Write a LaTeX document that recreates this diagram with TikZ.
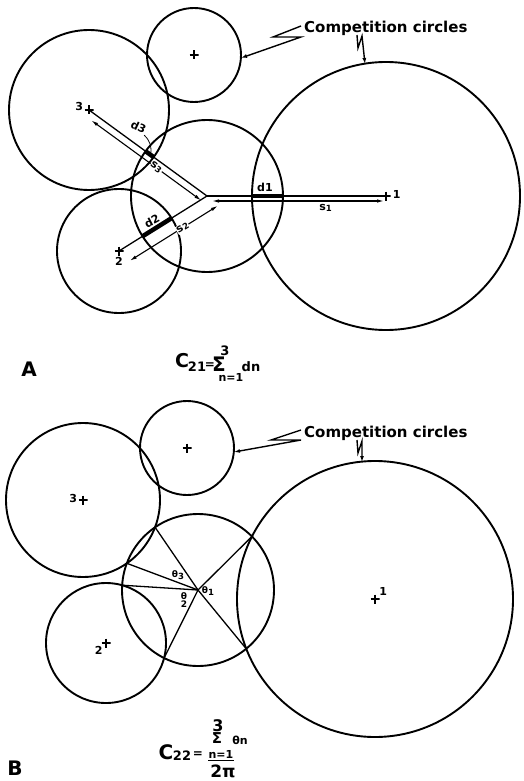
\documentclass[tikz,border=0pt]{standalone}
\usepackage{fontspec}
\setmainfont{DejaVu Sans}
\usetikzlibrary{arrows.meta,calc,positioning,intersections}
\newcommand{\ix}[2]{#1\raisebox{-1.5pt}{\fontsize{8.5}{8.5}\selectfont#2}}
\newcommand{\fs}[1]{\fontsize{#1}{#1}\selectfont\bfseries}

\tikzset{
  ring/.style={line width=1.9pt},
  spoke/.style={line width=1.3pt},
  overlap/.style={line width=4.5pt},
  tree/.style={minimum size=9pt,inner sep=0pt,path picture={\draw[line width=1.3pt]
      (path picture bounding box.north)--(path picture bounding box.south)
      (path picture bounding box.west)--(path picture bounding box.east);}},
  dimline/.style={line width=1.1pt,{Latex[length=7pt,width=3.5pt]}-{Latex[length=7pt,width=3.5pt]}},
  leader/.style={line width=1.4pt,-{Latex[length=6pt,width=4pt]}},
  num/.style={font=\fs{11},inner sep=0pt},
  lab/.style={font=\fs{11},inner sep=0.5pt},
  theta/.style={font=\fs{9},inner sep=0pt},
  comp/.style={font=\fs{15},inner sep=0pt},
  panel/.style={font=\fs{20},inner sep=0pt},
}

\begin{document}
\begin{tikzpicture}[x=1pt,y=-1pt]
  \useasboundingbox (0,0) rectangle (524,781);

  % ---- A: sum of overlaps d_n along the lines s_n
  \coordinate (cA) at (207,196);
  \node[tree] (a1) at (386,196) {};
  \node[tree] (a2) at (119,251) {};
  \node[tree] (a3) at (89,110) {};
  \node[tree] (a4) at (194,55) {};
  \foreach \t/\r in {a1/134,a2/62,a3/80,a4/47} \draw[ring] (\t.center) circle[radius=\r];
  \draw[ring] (cA) circle[radius=76];
  \node[num,right=2pt of a1,yshift=2pt] (n1) {1};
  \node[num,below=1pt of a2] (n2) {2};
  \node[num,left=1pt of a3,yshift=4pt] (n3) {3};

  \foreach \t/\r in {a1/134,a2/62,a3/80} {
    \draw[spoke] (cA) -- (\t.center);
    \draw[overlap] ($(cA)!76pt!(\t.center)$) -- ($(\t.center)!\r pt!(cA)$);
  }
  \draw[dimline] ($(cA)!5pt!(a1.center)!5pt!-90:(a1.center)$) -- node[lab,below=2pt,pos=0.66] (s1) {\ix{s}{1}} ($(a1.center)!2pt!(cA)!5pt!90:(cA)$);
  \draw[dimline] ($(cA)!-4pt!(a2.center)!14pt!90:(a2.center)$) -- node[lab,fill=white,sloped,pos=0.4] (s2) {\ix{s}{2}} ($(a2.center)!4pt!(cA)!14pt!-90:(cA)$);
  \draw[dimline] ($(cA)!2pt!(a3.center)!7pt!90:(a3.center)$) -- node[lab,fill=white,sloped,pos=0.41] (s3) {\ix{s}{3}} ($(a3.center)!8pt!(cA)!7pt!-90:(cA)$);
  \node[lab] (d1) at ($(cA)!58pt!(a1.center)+(0,-9)$) {d1};
  \node[lab,rotate=28,anchor=south] (d2) at ($(cA)!61pt!(a2.center)+(-1,-3)$) {d2};
  \node[lab,rotate=-25] (d3) at ($(cA)!71pt!(a3.center)+(-11,-27)$) {d3};
  \draw[line width=0.8pt] (d3.south east) to[bend left=30] ($(cA)!70pt!(a3.center)$);

  \node[comp,anchor=west] (compA) at (304,28) {Competition circles};
  \draw[leader] ($(compA.west)+(-3,-2)$) -- ++(-28,11) -- ++(28,0) -- ($(a4.center)+(47,3)$);
  \coordinate (kA) at (357,35);
  \draw[leader] (kA) -- ++(1,13) -- ++(4,-12) -- ($(a1.center)+(-21,-132)$);

  \node[panel] (labA) at (29,369) {A};
  \node[font=\fs{19},inner sep=0pt] (fa1) at (182,361) {C};
  \node[font=\fs{13},inner sep=0pt] (fa2) at (197,367) {21};
  \node[font=\fs{12},inner sep=0pt] (fa3) at (210,366) {=};
  \node[font=\fs{20},inner sep=0pt] (fa4) at (219,364) {Σ};
  \node[font=\fs{13},inner sep=0pt] (fa5) at (225,351) {3};
  \node[font=\fs{11},inner sep=0pt] (fa6) at (231,377) {n=1};
  \node[font=\fs{13},inner sep=0pt] (fa7) at (251,367) {dn};

  % ---- B: angles theta_n cut off by the neighbours
  \coordinate (cB) at (198,590);
  \node[tree] (b1) at (375,599) {};
  \node[tree] (b2) at (106,643) {};
  \node[tree] (b3) at (83,500) {};
  \node[tree] (b4) at (187,448) {};
  \draw[ring,name path=r1] (b1.center) circle[radius=138];
  \draw[ring,name path=r2] (b2.center) circle[radius=60];
  \draw[ring,name path=r3] (b3.center) circle[radius=77];
  \draw[ring] (b4.center) circle[radius=47];
  \draw[ring,name path=rc] (cB) circle[radius=76];
  \node[num,above right=-1pt and -0.5pt of b1] (m1) {1};
  \node[num,below left=-2pt and -1.5pt of b2] (m2) {2};
  \node[num,left=1pt of b3,yshift=2pt] (m3) {3};

  \foreach \k in {1,2,3} {
    \path[name intersections={of=rc and r\k,name=x\k}];
    \draw[spoke] (cB) -- (x\k-1);
    \draw[spoke] (cB) -- (x\k-2);
  }
  \node[theta] (t1) at ($(cB)+(10,1)$) {θ\ix{}{1}};
  \node[theta,align=center] (t2) at ($(cB)+(-14,10)$) {\shortstack{θ\\[-2pt]2}};
  \node[theta] (t3) at ($(cB)+(-20,-15)$) {θ\ix{}{3}};

  \node[comp,anchor=west] (compB) at (304,433) {Competition circles};
  \draw[leader] ($(compB.west)+(-3,-3)$) -- ++(-30,10) -- ++(30,0) -- ($(b4.center)+(47,4)$);
  \coordinate (kB) at (357,440);
  \draw[leader] (kB) -- ++(1,13) -- ++(4,-12) -- ($(b1.center)+(-13,-137)$);

  \node[panel] (labB) at (15,768) {B};
  \node[font=\fs{20},inner sep=0pt] (fb1) at (166,752) {C};
  \node[font=\fs{13},inner sep=0pt] (fb2) at (182,756) {22};
  \node[font=\fs{12},inner sep=0pt] (fb3) at (198,755) {=};
  \node[font=\fs{16},inner sep=0pt] (fb4) at (218,726) {3};
  \node[font=\fs{15},inner sep=0pt] (fb5) at (217,738) {Σ};
  \node[font=\fs{11},inner sep=0pt] (fb6) at (240,740) {θn};
  \node[font=\fs{11},inner sep=0pt] (fb7) at (221,754) {n=1};
  \draw[line width=1.2pt] ([yshift=-2pt]fb7.south west) -- ([yshift=-2pt]fb7.south east);
  \node[font=\fs{17},inner sep=0pt] (fb8) at (223,771) {2π};
\end{tikzpicture}
\end{document}
